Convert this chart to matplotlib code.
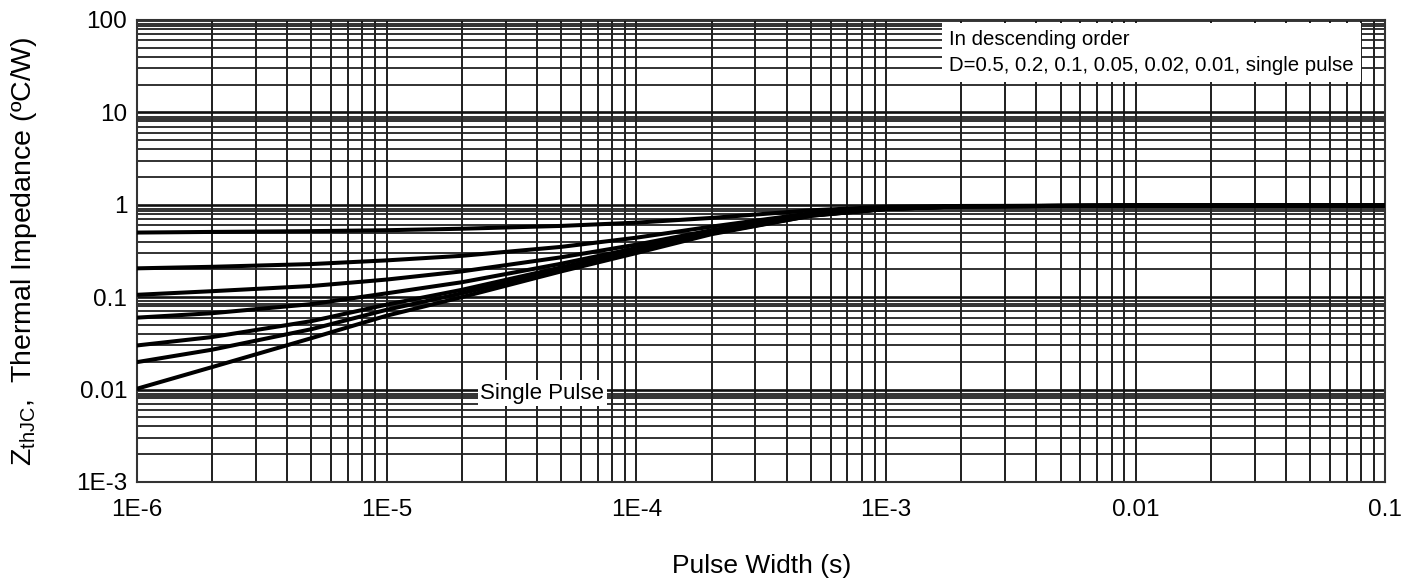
import numpy as np
import matplotlib
matplotlib.use("Agg")
import matplotlib.pyplot as plt
from matplotlib.ticker import LogLocator, FixedLocator, FixedFormatter, NullFormatter

plt.rcParams['font.family'] = ['Liberation Sans', 'DejaVu Sans']
plt.rcParams['mathtext.fontset'] = 'custom'
plt.rcParams['mathtext.rm'] = 'Liberation Sans'
plt.rcParams['mathtext.it'] = 'Liberation Sans:italic'

pulse_width = [1e-6, 2e-6, 5e-6, 1e-5, 2e-5, 5e-5, 1e-4, 2e-4, 5e-4, 1e-3, 2e-3, 1e-2, 1e-1]

# thermal impedance, one list per duty cycle
z_d050 = [0.50, 0.508, 0.518, 0.53, 0.55, 0.59, 0.64, 0.72, 0.87, 0.95, 0.97, 0.98, 0.98]
z_d020 = [0.205, 0.213, 0.228, 0.25, 0.28, 0.35, 0.44, 0.58, 0.81, 0.92, 0.965, 0.98, 0.98]
z_d010 = [0.106, 0.116, 0.132, 0.155, 0.19, 0.27, 0.37, 0.53, 0.78, 0.91, 0.96, 0.98, 0.98]
z_d005 = [0.060, 0.067, 0.084, 0.11, 0.145, 0.23, 0.34, 0.51, 0.77, 0.90, 0.96, 0.98, 0.98]
z_d002 = [0.030, 0.037, 0.055, 0.083, 0.12, 0.21, 0.32, 0.49, 0.77, 0.90, 0.96, 0.98, 0.98]
z_d001 = [0.0198, 0.027, 0.045, 0.073, 0.11, 0.20, 0.31, 0.49, 0.76, 0.90, 0.96, 0.98, 0.98]
z_single = [0.0102, 0.0175, 0.036, 0.063, 0.10, 0.19, 0.30, 0.48, 0.76, 0.90, 0.96, 0.98, 0.98]

x_ticks = [1e-6, 1e-5, 1e-4, 1e-3, 1e-2, 1e-1]
x_labels = ['1E-6', '1E-5', '1E-4', '1E-3', '0.01', '0.1']
y_ticks = [1e-3, 1e-2, 1e-1, 1, 10, 100]
y_labels = ['1E-3', '0.01', '0.1', '1', '10', '100']

fig = plt.figure(figsize=(14.18, 5.87), dpi=100)
ax = fig.add_axes([0.0966, 0.179, 0.8804, 0.787])

for z in [z_d050, z_d020, z_d010, z_d005, z_d002, z_d001, z_single]:
    ax.plot(pulse_width, z, color='black', lw=2.9, zorder=3)

ax.set_xscale('log')
ax.set_yscale('log')
ax.set_xlim(1e-6, 1e-1)
ax.set_ylim(1e-3, 100)

ax.xaxis.set_major_locator(FixedLocator(x_ticks))
ax.xaxis.set_major_formatter(FixedFormatter(x_labels))
ax.yaxis.set_major_locator(FixedLocator(y_ticks))
ax.yaxis.set_major_formatter(FixedFormatter(y_labels))
ax.xaxis.set_minor_locator(LogLocator(base=10, subs=np.arange(2, 10)))
ax.yaxis.set_minor_locator(LogLocator(base=10, subs=[2, 3, 4, 5, 6, 7, 8, 8.5, 9]))
ax.xaxis.set_minor_formatter(NullFormatter())
ax.yaxis.set_minor_formatter(NullFormatter())

# dense chart-paper grid
ax.grid(axis='x', which='both', color='#1e1e1e', lw=1.4)
ax.grid(axis='y', which='major', color='#111111', lw=1.9)
ax.grid(axis='y', which='minor', color='#222222', lw=1.3)
ax.tick_params(which='both', length=0, labelsize=17.5)
ax.tick_params(axis='x', pad=12)
ax.tick_params(axis='y', pad=7)
for s in ax.spines.values():
    s.set_color('#333333')
    s.set_linewidth(1.5)

ax.set_xlabel('Pulse Width (s)', fontsize=19, labelpad=24)
ax.set_ylabel(r'Z$_{\mathrm{thJC}}$,  Thermal Impedance (ºC/W)', fontsize=20.5, labelpad=27)

ax.text(0.6505, 0.978, 'In descending order\nD=0.5, 0.2, 0.1, 0.05, 0.02, 0.01, single pulse',
        transform=ax.transAxes, fontsize=14.7, va='top', ha='left', linespacing=1.45,
        bbox=dict(facecolor='white', edgecolor='none', pad=5), zorder=5)
ax.text(0.275, 0.192, 'Single Pulse', transform=ax.transAxes, fontsize=16,
        va='center', ha='left',
        bbox=dict(facecolor='white', edgecolor='none', pad=2), zorder=5)

fig.savefig('out.png', dpi=100)
